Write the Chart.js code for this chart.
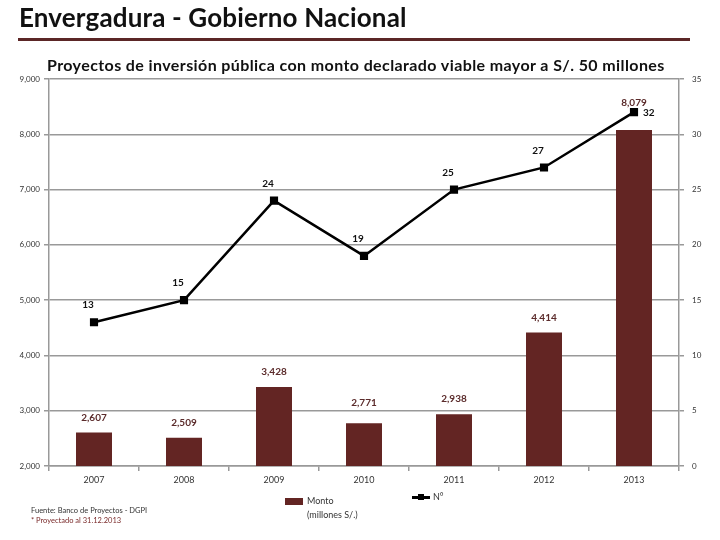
<!DOCTYPE html>
<html>
<head>
<meta charset="utf-8">
<script src="https://cdn.jsdelivr.net/npm/chart.js@4"></script>
<style>
  body { margin: 0; background: #fff; font-family: Lato, "Open Sans", sans-serif; }
  #wrap { position: relative; width: 720px; height: 540px; }
  #chart { position: absolute; left: 0; top: 0; }
  .title { position: absolute; left: 19px; top: 1px; font-size: 26px; font-weight: bold; color: #111; letter-spacing: 0.15px; }
  .rule { position: absolute; left: 18px; top: 38px; width: 672px; height: 3px; background: #5b2626; }
  .subtitle { position: absolute; left: 47px; top: 55px; font-size: 16px; font-weight: bold; color: #111; letter-spacing: 0.4px; }
  .foot { position: absolute; left: 31px; font-size: 7.5px; color: #333; }
  .leg { position: absolute; font-size: 9px; color: #333; line-height: 14px; }
</style>
</head>
<body>
<div id="wrap">
  <canvas id="chart" width="720" height="540"></canvas>
  <div class="title">Envergadura - Gobierno Nacional</div>
  <div class="rule"></div>
  <div class="subtitle">Proyectos de inversión pública con monto declarado viable mayor a S/. 50 millones</div>
  <div class="foot" style="top:506px">Fuente: Banco de Proyectos - DGPI</div>
  <div class="foot" style="top:516px;color:#7a2a2a">* Proyectado al 31.12.2013</div>
  <div style="position:absolute;left:285px;top:498px;width:18px;height:7px;background:#632523"></div>
  <div class="leg" style="left:307px;top:494px">Monto<br>(millones S/.)</div>
  <div style="position:absolute;left:412px;top:496px;width:18px;height:3px;background:#000"></div>
  <div style="position:absolute;left:418px;top:494px;width:6px;height:6px;background:#000"></div>
  <div class="leg" style="left:433px;top:490px">N°</div>
</div>
<script>
const years = ['2007', '2008', '2009', '2010', '2011', '2012', '2013'];
const monto = [2607, 2509, 3428, 2771, 2938, 4414, 8079];
const numero = [13, 15, 24, 19, 25, 27, 32];
const leftTicks = [2000, 3000, 4000, 5000, 6000, 7000, 8000, 9000];
const rightTicks = [0, 5, 10, 15, 20, 25, 30, 35];

const fmt = v => v.toLocaleString('en-US');

// labels on top of bars and next to line points
const labelPlugin = {
  id: 'labels',
  afterDatasetsDraw(chart) {
    const ctx = chart.ctx;
    ctx.save();
    ctx.font = 'bold 10px Lato, "Open Sans", sans-serif';
    const bars = chart.getDatasetMeta(1).data;
    ctx.textAlign = 'center';
    ctx.textBaseline = 'bottom';
    bars.forEach((b, i) => {
      ctx.fillStyle = '#5b2b2b';
      const extra = i === bars.length - 1 ? 16 : (i === 3 ? 10 : 4);
      ctx.fillText(fmt(monto[i]), b.x, b.y - 6 - extra);
    });
    const pts = chart.getDatasetMeta(0).data;
    ctx.fillStyle = '#111';
    pts.forEach((p, i) => {
      if (i === pts.length - 1) {
        ctx.textAlign = 'left';
        ctx.textBaseline = 'middle';
        ctx.fillText(numero[i], p.x + 9, p.y + 1);
      } else {
        ctx.textAlign = 'center';
        ctx.textBaseline = 'bottom';
        ctx.fillText(numero[i], p.x - 6, p.y - 12);
      }
    });
    ctx.restore();
  }
};

new Chart(document.getElementById('chart'), {
  data: {
    labels: years,
    datasets: [
      {
        type: 'line',
        label: 'N°',
        data: numero,
        yAxisID: 'y1',
        borderColor: '#000',
        backgroundColor: '#000',
        borderWidth: 2.5,
        pointStyle: 'rect',
        pointRadius: 4,
        pointHoverRadius: 4,
        tension: 0,
        order: 0
      },
      {
        type: 'bar',
        label: 'Monto (millones S/.)',
        data: monto,
        yAxisID: 'y',
        backgroundColor: '#632523',
        barPercentage: 0.4,
        categoryPercentage: 1,
        order: 1
      }
    ]
  },
  options: {
    responsive: false,
    animation: false,
    layout: { padding: { top: 79, bottom: 44, left: 0, right: 0 } },
    plugins: { legend: { display: false }, tooltip: { enabled: false } },
    scales: {
      x: {
        offset: true,
        grid: { offset: true, drawOnChartArea: false, drawTicks: true, tickLength: 5, color: '#999', lineWidth: 1.5 },
        border: { color: '#999', width: 1.5 },
        ticks: { color: '#333', font: { size: 9, family: 'Lato, "Open Sans", sans-serif' }, padding: 4 },
        afterFit(s) { s.height = 30; }
      },
      y: {
        position: 'left',
        min: 2000, max: 9000,
        afterBuildTicks(s) { s.ticks = leftTicks.map(v => ({ value: v })); },
        grid: { color: '#999', lineWidth: 1.5, tickLength: 5 },
        border: { color: '#999', width: 1.5 },
        ticks: { color: '#333', font: { size: 8, family: 'Lato, "Open Sans", sans-serif' }, padding: 4, callback: v => fmt(v) },
        afterFit(s) { s.width = 49; }
      },
      y1: {
        position: 'right',
        min: 0, max: 35,
        afterBuildTicks(s) { s.ticks = rightTicks.map(v => ({ value: v })); },
        grid: { drawOnChartArea: false, color: '#999', lineWidth: 1.5, tickLength: 5 },
        border: { color: '#999', width: 1.5 },
        ticks: { color: '#333', font: { size: 8, family: 'Lato, "Open Sans", sans-serif' }, padding: 8 },
        afterFit(s) { s.width = 41; }
      }
    }
  },
  plugins: [labelPlugin]
});
</script>
</body>
</html>
